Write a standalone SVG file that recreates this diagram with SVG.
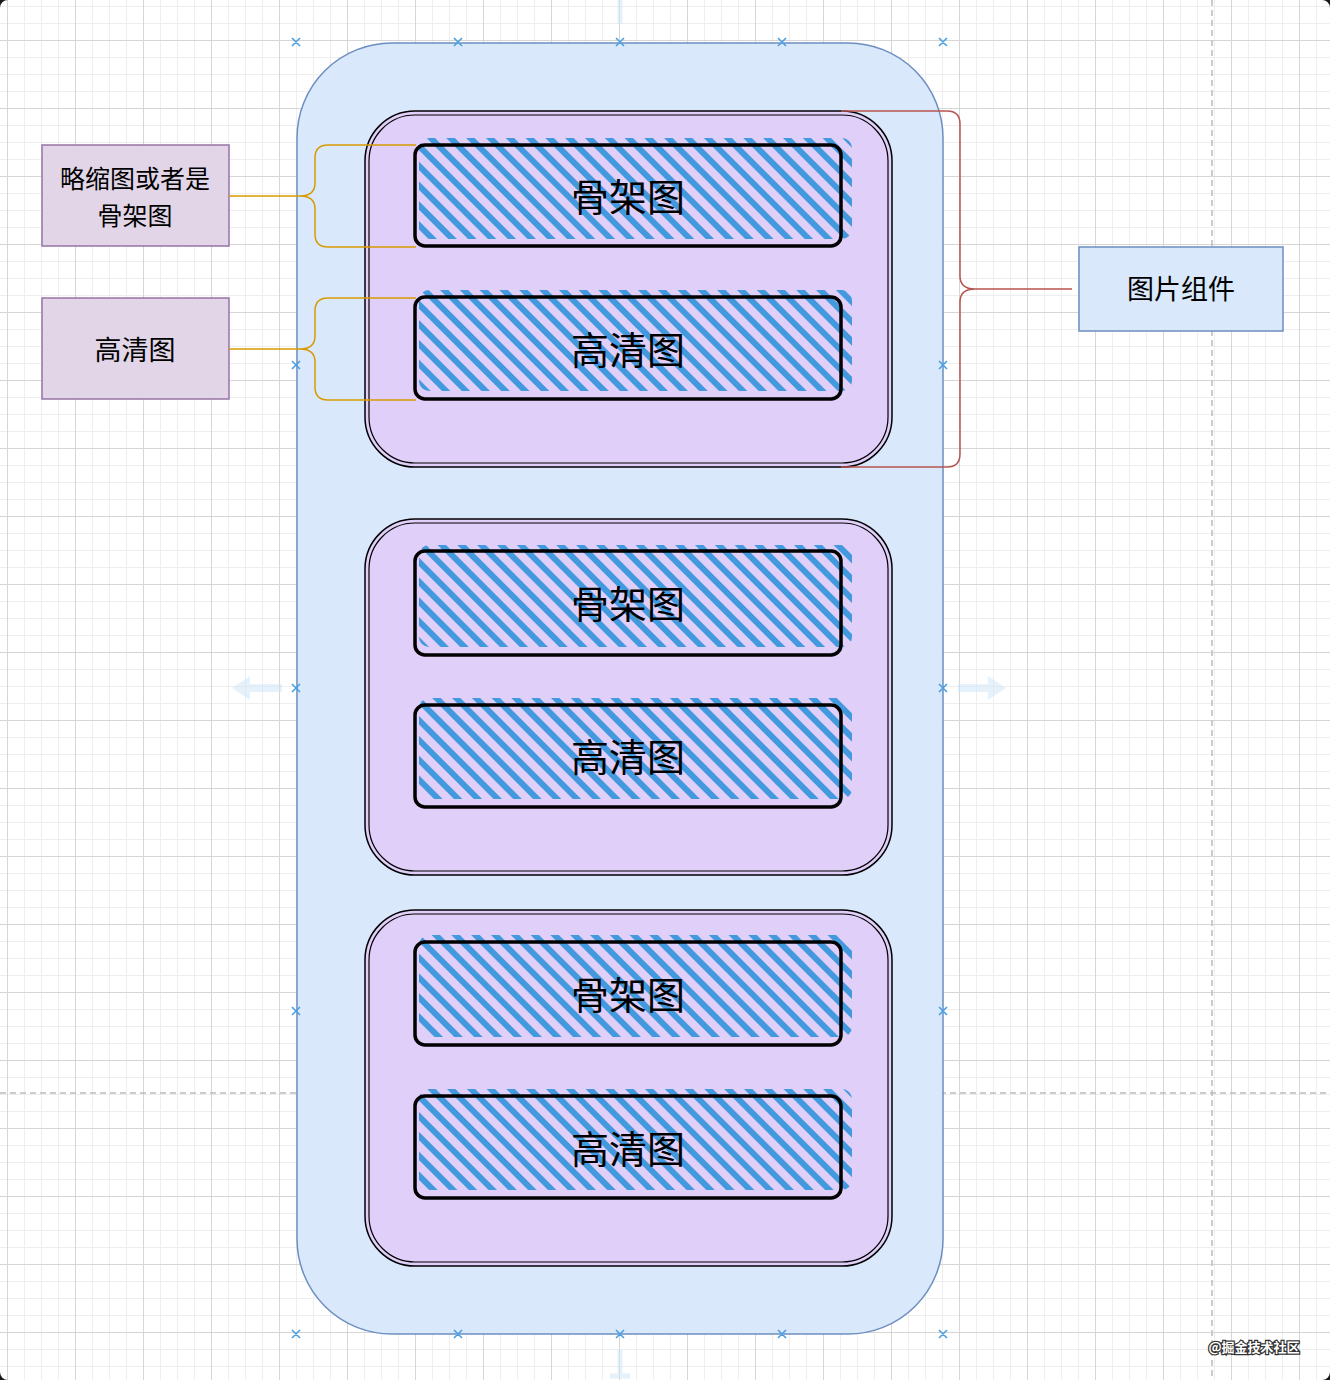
<svg xmlns="http://www.w3.org/2000/svg" width="1330" height="1380" viewBox="0 0 1330 1380">
<style>
.cjk{font-family:"Noto Sans CJK SC","Noto Sans",sans-serif;fill:#000;text-anchor:middle;dominant-baseline:central}
.big{font-size:38px}
.mid{font-size:27px}
.sk{fill:none;stroke:#000;stroke-width:3.5}
.hz{fill:url(#hatch)}
.grp{fill:#e0cff8;stroke:#000;stroke-width:1.5}
.grpin{fill:none;stroke:#000;stroke-width:1.2}
.mk{stroke:#4a9fe0;stroke-width:1.6;fill:none}
</style>
<defs>
<pattern id="grid" x="7" y="40" width="68" height="68" patternUnits="userSpaceOnUse">
<path d="M17.5 0V68M34.5 0V68M51.5 0V68M0 17.5H68M0 34.5H68M0 51.5H68" stroke="#eeeeee" stroke-width="1"/>
<path d="M0.5 0V68M0 0.5H68" stroke="#d6d6d6" stroke-width="1"/>
</pattern>
<pattern id="hatch" width="14" height="14" patternUnits="userSpaceOnUse" patternTransform="rotate(45)">
<rect x="0" y="0" width="14" height="6" fill="#4399de"/>
</pattern>
</defs>
<rect x="0" y="0" width="1330" height="1380" fill="#ffffff"/>
<rect x="0" y="0" width="1330" height="1380" fill="url(#grid)"/>
<path d="M1212 0V1380" stroke="#bcbcbc" stroke-width="1.5" stroke-dasharray="6 4"/>
<path d="M0 1093H1330" stroke="#bcbcbc" stroke-width="1.5" stroke-dasharray="6 4"/>
<g opacity="0.5" stroke="#cfe6f8" fill="#cfe6f8">
<path d="M620 0V24" stroke-width="5"/>
<path d="M620 1350V1376M610 1376H630" stroke-width="5"/>
<path d="M282 688H248" stroke-width="8"/>
<path d="M232 688L250 676V700Z" stroke="none"/>
<path d="M958 688H990" stroke-width="8"/>
<path d="M1006 688L988 676V700Z" stroke="none"/>
</g>
<g id="outer">
<rect x="297" y="43" width="646" height="1291" rx="95" ry="95" fill="#dae8fc" stroke="#6c8ebf" stroke-width="1.5"/>
</g>
<g id="markers" class="mk">
<path d="M292 38l8 8M300 38l-8 8M454 38l8 8M462 38l-8 8M616 38l8 8M624 38l-8 8M778 38l8 8M786 38l-8 8M939 38l8 8M947 38l-8 8"/>
<path d="M292 361l8 8M300 361l-8 8M939 361l8 8M947 361l-8 8"/>
<path d="M292 684l8 8M300 684l-8 8M939 684l8 8M947 684l-8 8"/>
<path d="M292 1007l8 8M300 1007l-8 8M939 1007l8 8M947 1007l-8 8"/>
<path d="M292 1330l8 8M300 1330l-8 8M454 1330l8 8M462 1330l-8 8M616 1330l8 8M624 1330l-8 8M778 1330l8 8M786 1330l-8 8M939 1330l8 8M947 1330l-8 8"/>
</g>
<g id="group1">
<rect class="grp" x="365" y="111" width="527" height="356" rx="50" ry="50"/>
<rect class="grpin" x="369" y="115" width="519" height="348" rx="46" ry="46"/>
</g>
<g id="group2">
<rect class="grp" x="365" y="519" width="527" height="356" rx="50" ry="50"/>
<rect class="grpin" x="369" y="523" width="519" height="348" rx="46" ry="46"/>
</g>
<g id="group3">
<rect class="grp" x="365" y="910" width="527" height="356" rx="50" ry="50"/>
<rect class="grpin" x="369" y="914" width="519" height="348" rx="46" ry="46"/>
</g>
<g id="sk1a">
<rect class="hz" x="419" y="138" width="433" height="101" rx="10"/>
<rect class="sk" x="415" y="145" width="426" height="101" rx="10"/>
<text class="cjk big" x="628" y="194">骨架图</text>
</g>
<g id="sk1b">
<rect class="hz" x="419" y="290" width="433" height="101" rx="10"/>
<rect class="sk" x="415" y="297" width="426" height="102" rx="10"/>
<text class="cjk big" x="628" y="347">高清图</text>
</g>
<g id="sk2a">
<rect class="hz" x="419" y="545" width="433" height="102" rx="10"/>
<rect class="sk" x="415" y="551" width="426" height="104" rx="10"/>
<text class="cjk big" x="628" y="601">骨架图</text>
</g>
<g id="sk2b">
<rect class="hz" x="419" y="698" width="433" height="101" rx="10"/>
<rect class="sk" x="415" y="705" width="426" height="102" rx="10"/>
<text class="cjk big" x="628" y="754">高清图</text>
</g>
<g id="sk3a">
<rect class="hz" x="419" y="935" width="433" height="102" rx="10"/>
<rect class="sk" x="415" y="942" width="426" height="103" rx="10"/>
<text class="cjk big" x="628" y="992">骨架图</text>
</g>
<g id="sk3b">
<rect class="hz" x="419" y="1089" width="433" height="101" rx="10"/>
<rect class="sk" x="415" y="1096" width="426" height="102" rx="10"/>
<text class="cjk big" x="628" y="1146">高清图</text>
</g>
<g id="label-thumb">
<rect x="42" y="145" width="187" height="101" fill="#e1d5e7" stroke="#9673a6" stroke-width="1.5"/>
<text class="cjk" font-size="25"><tspan x="135" y="177">略缩图或者是</tspan><tspan x="135" y="214">骨架图</tspan></text>
</g>
<g id="label-hd">
<rect x="42" y="298" width="187" height="101" fill="#e1d5e7" stroke="#9673a6" stroke-width="1.5"/>
<text class="cjk mid" x="135" y="348">高清图</text>
</g>
<g id="label-comp">
<rect x="1079" y="247" width="204" height="84" fill="#dae8fc" stroke="#6c8ebf" stroke-width="1.5"/>
<text class="cjk" x="1181" y="287" font-size="27">图片组件</text>
</g>
<g id="connectors" fill="none" stroke-width="1.5">
<path stroke="#d79b00" d="M229 196H300M416 145H328Q315 145 315 158V183Q315 196 300 196Q315 196 315 209V234Q315 247 328 247H416"/>
<path stroke="#d79b00" d="M229 349H300M416 298H328Q315 298 315 311V336Q315 349 300 349Q315 349 315 362V387Q315 400 328 400H416"/>
<path stroke="#b85450" d="M975 289H1072M841 111H947Q960 111 960 124V276Q960 289 975 289Q960 289 960 302V454Q960 467 947 467H841"/>
</g>
<text x="1254" y="1346" font-family="&quot;Noto Sans CJK SC&quot;,sans-serif" font-size="13" font-weight="bold" text-anchor="middle" dominant-baseline="central" fill="#ffffff" stroke="#333333" stroke-width="2.5" paint-order="stroke">@掘金技术社区</text>
<path d="M0 0H8A8 8 0 0 0 0 8ZM1330 0V8A8 8 0 0 0 1322 0ZM0 1380V1372A8 8 0 0 0 8 1380ZM1330 1380H1322A8 8 0 0 0 1330 1372Z" fill="#1a1a1a"/>
</svg>
